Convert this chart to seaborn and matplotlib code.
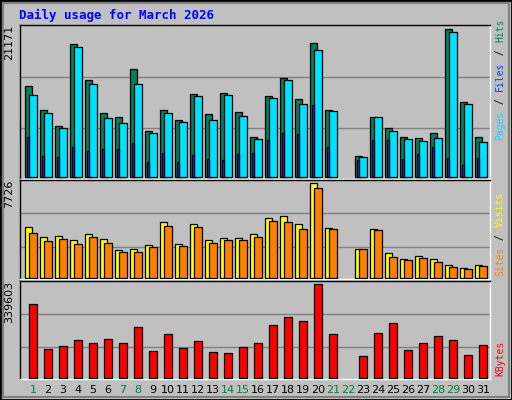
import numpy as np
import pandas as pd
import seaborn as sns
import matplotlib
matplotlib.use("Agg")
import matplotlib.pyplot as plt
from matplotlib.patches import Rectangle

days = list(range(1, 32))
px = 21171 / 147
hits_px = [91,67,51,133,97,64,60,108,46,67,57,83,63,84,65,40,81,99,78,134,67,0,21,60,49,40,39,44,147,75,40]
pages_px = [82,64,49,130,93,59,54,93,44,64,55,81,57,82,61,38,79,97,73,127,66,0,20,60,46,38,36,39,144,73,35]
files_px = [40,21,20,30,26,28,28,34,15,24,15,22,18,17,23,24,37,44,43,72,30,0,17,37,37,18,23,30,19,12,19]
hits = [round(v * px) for v in hits_px]
pages = [round(v * px) for v in pages_px]
files = [round(v * px) for v in files_px]

vis_top = [142,172,169,181,163,178,208,205,193,127,190,133,181,175,175,163,115,109,133,13,145,290,205,148,217,235,226,235,253,262,253]
site_top = [160,184,178,190,172,187,214,214,199,139,196,142,187,181,181,172,124,127,148,28,148,290,205,151,229,238,232,244,259,265,256]
visits = [round((290 - t) / 277 * 7726) for t in vis_top]
sites = [round((290 - t) / 277 * 7726) for t in site_top]

kb_top = [373,502,493,478,484,475,484,439,508,460,499,481,511,514,496,484,433,409,421,313,460,587,523,457,427,505,484,466,478,520,490]
kbytes = [round((587 - t) / 274 * 339603) for t in kb_top]

weekend = {1, 7, 8, 14, 15, 21, 22, 28, 29}
BG = "#C0C0C0"

sns.set_style("white")
plt.rcParams["font.family"] = ["DejaVu Sans"]

fig = plt.figure(figsize=(5.12, 4.0), dpi=100, facecolor=BG)
W, H = 512, 400
def axes(top, bottom):
    return fig.add_axes([20 / W, 1 - bottom / H, 470 / W, (bottom - top) / H])

ax1 = axes(25, 179)
ax2 = axes(180, 279)
ax3 = axes(281, 379)

d = np.array(days, dtype=float)

def bars(ax, off, vals, w, color):
    v = np.array(vals, dtype=float)
    v[v == 0] = np.nan
    df = pd.DataFrame({"x": d + off, "y": v})
    sns.barplot(data=df, x="x", y="y", native_scale=True, width=w, color=color,
                edgecolor="black", linewidth=0.9, saturation=1, ax=ax, zorder=3)

bars(ax1, 0.05, hits, 0.5, "#00805C")
bars(ax1, 0.33, pages, 0.48, "#00E0FF")
bars(ax1, 0.01, files, 0.13, "#0040FF")
bars(ax2, 0.05, visits, 0.5, "#FFFF00")
bars(ax2, 0.33, sites, 0.48, "#FF8000")
bars(ax3, 0.33, kbytes, 0.52, "#FF0000")

for ax, mx in [(ax1, 21171), (ax2, 7726), (ax3, 339603)]:
    ax.set_facecolor(BG)
    ax.set_xlim(0.47, 31.8)
    ax.set_ylim(-mx * 0.012, mx * 1.03)
    for f in (0.33, 0.68):
        ax.axhline(mx * f, color="#808080", lw=1, zorder=1)
    ax.set_xticks([]); ax.set_yticks([])
    ax.set_xlabel(""); ax.set_ylabel("")
    for s in ("left", "top"):
        ax.spines[s].set_color("black")
    for s in ("right", "bottom"):
        ax.spines[s].set_color("white")
    for s in ax.spines.values():
        s.set_linewidth(1)

for ax, lab in [(ax1, "21171"), (ax2, "7726"), (ax3, "339603")]:
    ax.text(-0.012, 1.0, lab, transform=ax.transAxes, rotation=90, ha="right", va="top",
            fontsize=8, color="black")

ax3.set_xticks(d + 0.33)
ax3.set_xticklabels([str(x) for x in days], fontsize=8)
ax3.tick_params(axis="x", length=0, pad=4)
for t, day in zip(ax3.get_xticklabels(), days):
    t.set_color("#008040" if day in weekend else "black")

fig.text(19 / W, 1 - 15 / H, "Daily usage for March 2026", color="#0000FF", fontsize=9,
         fontweight="bold", family="DejaVu Sans Mono", va="center")

FS = 7
ADV = FS * 100 / 72 * 0.602
def vlabel(pieces, ybottom):
    y = ybottom
    for txt, col in pieces:
        fig.text(500 / W, 1 - y / H, txt, rotation=90, color=col, fontsize=FS,
                 family="DejaVu Sans Mono", ha="center", va="bottom")
        y -= len(txt) * ADV + 1

vlabel([("Pages", "#00E0FF"), (" / ", "black"), ("Files", "#0040FF"), (" / ", "black"), ("Hits", "#00805C")], 140)
vlabel([("Sites", "#FF8000"), (" / ", "black"), ("Visits", "#FFFF00")], 276)
vlabel([("KBytes", "#FF0000")], 376)

fig.patches.append(Rectangle((0, 0), 1, 1, transform=fig.transFigure, fill=False,
                             edgecolor="black", lw=2))
fig.patches.append(Rectangle((3 / W, 3 / H), 1 - 6 / W, 1 - 6 / H, transform=fig.transFigure,
                             fill=False, edgecolor="#808080", lw=1.5))

fig.savefig("out.png", dpi=100, facecolor=BG)
